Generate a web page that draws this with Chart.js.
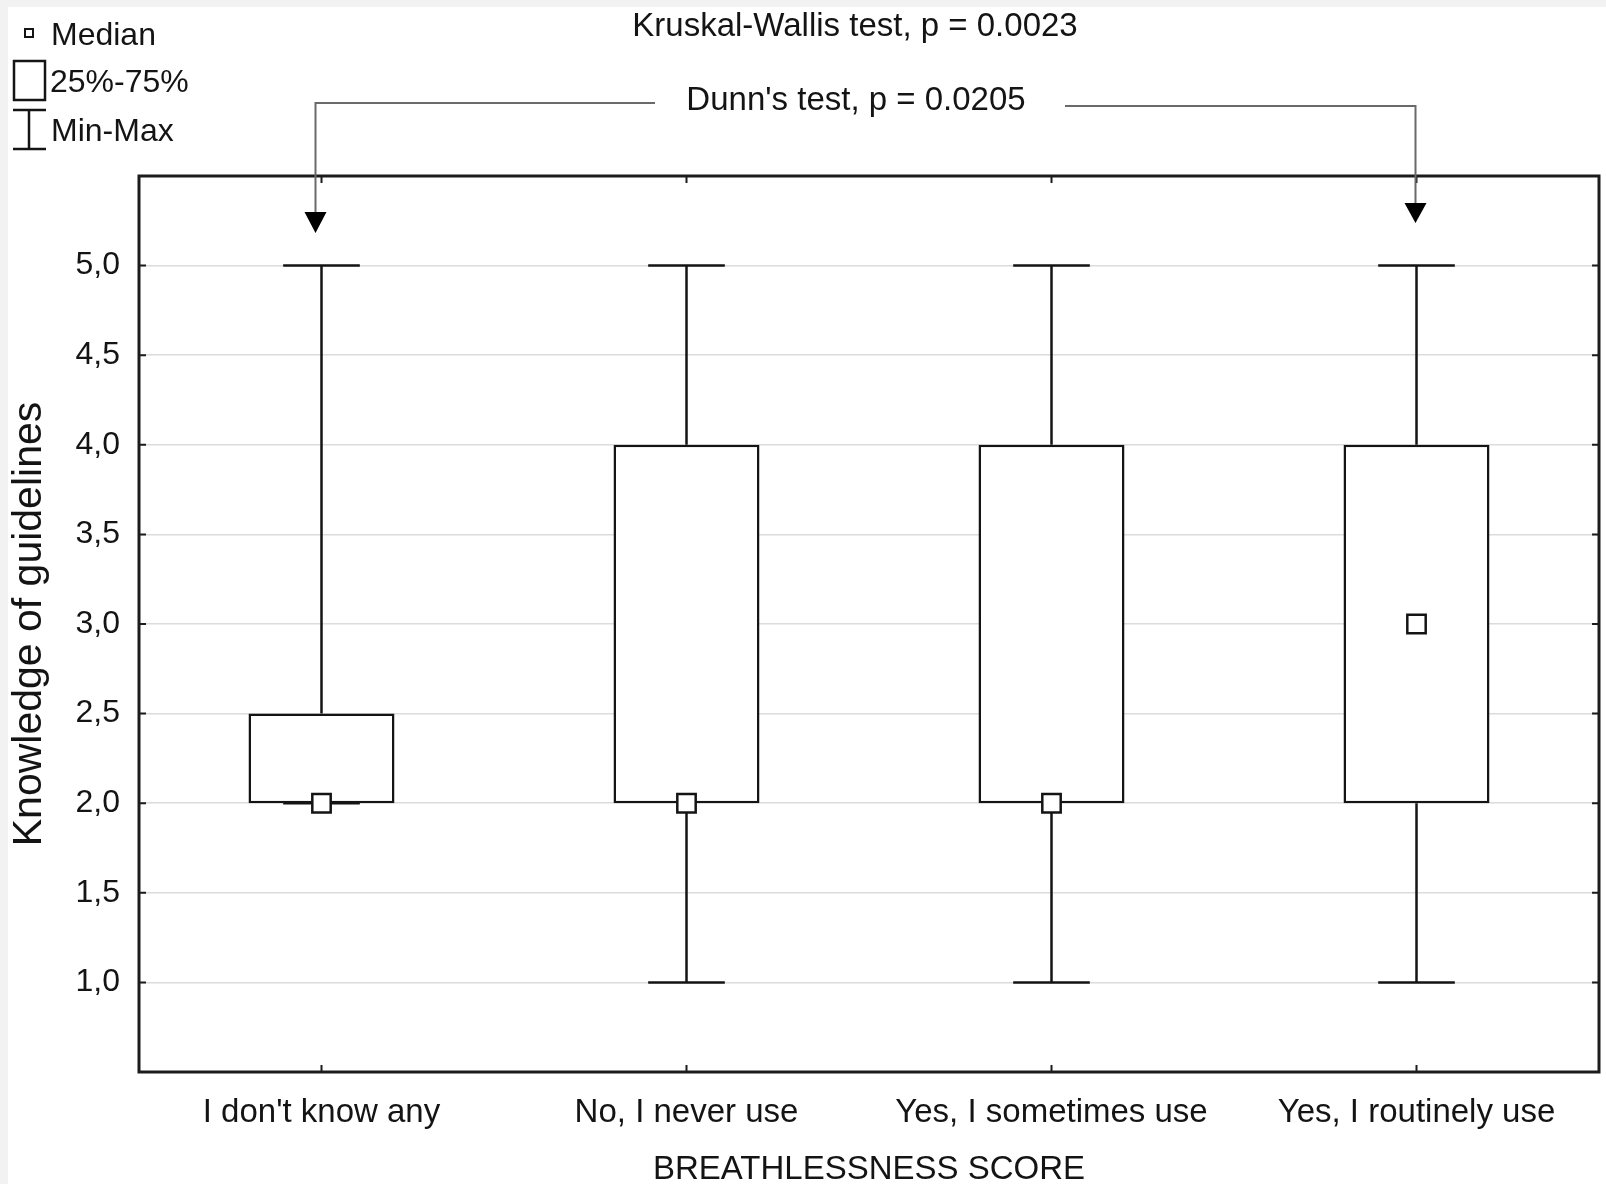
<!DOCTYPE html>
<html>
<head>
<meta charset="utf-8">
<style>
  html, body { margin: 0; padding: 0; background: #f2f2f2; overflow: hidden; }
  #wrap { width: 1606px; height: 1184px; }
</style>
<script src="https://cdn.jsdelivr.net/npm/chart.js@4.4.1/dist/chart.umd.min.js"></script>
</head>
<body>
<div id="wrap"><canvas id="myChart" width="1606" height="1184"></canvas></div>
<script>
const categories = ["I don't know any", "No, I never use", "Yes, I sometimes use", "Yes, I routinely use"];
const minValues = [2, 1, 1, 1];
const q1Values = [2, 2, 2, 2];
const medianValues = [2, 2, 2, 3];
const q3Values = [2.5, 4, 4, 4];
const maxValues = [5, 5, 5, 5];
const yTickValues = [1, 1.5, 2, 2.5, 3, 3.5, 4, 4.5, 5];

const FONT = '"Liberation Sans", Arial, Helvetica, sans-serif';
const INK = '#141414';

// light grey strip round the picture, white page
const background = {
    id: 'background',
    beforeDraw(chart) {
        const c = chart.ctx;
        c.save();
        c.fillStyle = '#f2f2f2';
        c.fillRect(0, 0, chart.width, chart.height);
        c.fillStyle = '#ffffff';
        c.fillRect(8, 7, chart.width - 8, chart.height - 7);
        c.restore();
    }
};

// min-max whiskers, drawn under the boxes
const whiskers = {
    id: 'whiskers',
    beforeDatasetsDraw(chart) {
        const c = chart.ctx;
        const x = chart.scales.x, y = chart.scales.y;
        const capHalf = x.width / categories.length * 0.105;
        c.save();
        c.strokeStyle = INK;
        c.lineWidth = 2.5;
        categories.forEach((cat, i) => {
            const px = x.getPixelForValue(i);
            c.beginPath();
            c.moveTo(px, y.getPixelForValue(maxValues[i]));
            c.lineTo(px, y.getPixelForValue(q3Values[i]));
            c.moveTo(px, y.getPixelForValue(minValues[i]));
            c.lineTo(px, y.getPixelForValue(q1Values[i]));
            c.moveTo(px - capHalf, y.getPixelForValue(maxValues[i]));
            c.lineTo(px + capHalf, y.getPixelForValue(maxValues[i]));
            c.moveTo(px - capHalf, y.getPixelForValue(minValues[i]));
            c.lineTo(px + capHalf, y.getPixelForValue(minValues[i]));
            c.stroke();
        });
        c.restore();
    }
};

// frame, inward ticks, legend and the test annotations
const decorations = {
    id: 'decorations',
    afterDraw(chart) {
        const c = chart.ctx;
        const a = chart.chartArea;
        const x = chart.scales.x, y = chart.scales.y;
        c.save();

        c.strokeStyle = '#1c1c1c';
        c.lineWidth = 3;
        c.strokeRect(a.left, a.top, a.right - a.left, a.bottom - a.top);

        c.lineWidth = 2;
        c.beginPath();
        yTickValues.forEach(v => {
            const py = y.getPixelForValue(v);
            c.moveTo(a.left, py); c.lineTo(a.left + 7, py);
            c.moveTo(a.right, py); c.lineTo(a.right - 7, py);
        });
        categories.forEach((cat, i) => {
            const px = x.getPixelForValue(i);
            c.moveTo(px, a.bottom); c.lineTo(px, a.bottom - 7);
            c.moveTo(px, a.top); c.lineTo(px, a.top + 7);
        });
        c.stroke();

        // legend
        c.fillStyle = INK;
        c.strokeStyle = INK;
        c.font = '32px ' + FONT;
        c.textBaseline = 'middle';
        c.textAlign = 'left';
        c.lineWidth = 2;
        c.strokeRect(25, 29, 8, 8);
        c.fillText('Median', 51, 36);
        c.lineWidth = 2.5;
        c.strokeRect(14, 61, 31, 39);
        c.fillText('25%-75%', 50, 83);
        c.beginPath();
        c.moveTo(13, 110); c.lineTo(46, 110);
        c.moveTo(29, 110); c.lineTo(29, 149);
        c.moveTo(13, 149); c.lineTo(46, 149);
        c.stroke();
        c.fillText('Min-Max', 51, 132);

        // tests
        c.font = '33px ' + FONT;
        c.textAlign = 'center';
        c.fillText('Kruskal-Wallis test, p = 0.0023', 855, 27);
        c.fillText("Dunn's test, p = 0.0205", 856, 101);

        const xl = x.getPixelForValue(0) - 6;
        const xr = x.getPixelForValue(3) - 1;
        c.strokeStyle = '#6a6a6a';
        c.lineWidth = 2;
        c.beginPath();
        c.moveTo(655, 103); c.lineTo(xl, 103); c.lineTo(xl, 213);
        c.moveTo(1065, 106); c.lineTo(xr, 106); c.lineTo(xr, 204);
        c.stroke();
        c.fillStyle = '#000';
        c.beginPath();
        c.moveTo(xl - 11, 212); c.lineTo(xl + 11, 212); c.lineTo(xl, 233); c.closePath();
        c.moveTo(xr - 11, 203); c.lineTo(xr + 11, 203); c.lineTo(xr, 223); c.closePath();
        c.fill();

        c.restore();
    }
};

const ctx = document.getElementById('myChart').getContext('2d');

const myChart = new Chart(ctx, {
    type: 'bar',
    data: {
        labels: categories,
        datasets: [{
            label: 'Median',
            type: 'line',
            data: medianValues,
            showLine: false,
            pointStyle: 'rect',
            pointRadius: 13,
            pointBackgroundColor: '#ffffff',
            pointBorderColor: INK,
            pointBorderWidth: 2.5,
            order: 0
        }, {
            label: '25%-75%',
            data: categories.map((cat, i) => [q1Values[i], q3Values[i]]),
            backgroundColor: '#ffffff',
            borderColor: INK,
            borderWidth: 2.5,
            borderSkipped: false,
            barPercentage: 0.4,
            categoryPercentage: 1,
            order: 1
        }]
    },
    options: {
        responsive: false,
        animation: false,
        layout: { autoPadding: false, padding: { top: 176, right: 7, left: 0, bottom: 0 } },
        plugins: {
            legend: { display: false },
            tooltip: { enabled: false }
        },
        scales: {
            x: {
                grid: { display: false, drawTicks: false },
                border: { display: false },
                ticks: { font: { family: FONT, size: 33 }, color: INK, padding: 21, maxRotation: 0 },
                title: {
                    display: true,
                    text: 'BREATHLESSNESS SCORE',
                    font: { family: FONT, size: 33, lineHeight: 0.85 },
                    color: INK,
                    padding: 0
                },
                afterFit: s => { s.height = 112; s.paddingLeft = 0; s.paddingRight = 0; }
            },
            y: {
                min: 0.5,
                max: 5.5,
                afterBuildTicks: s => { s.ticks = yTickValues.map(v => ({ value: v })); },
                grid: { color: '#dcdcdc', lineWidth: 1.5, drawTicks: false },
                border: { display: false },
                ticks: {
                    font: { family: FONT, size: 32 },
                    color: INK,
                    padding: 19,
                    callback: v => v.toFixed(1).replace('.', ',')
                },
                title: {
                    display: true,
                    text: 'Knowledge of guidelines',
                    font: { family: FONT, size: 41, lineHeight: 1 },
                    color: INK,
                    padding: { top: 9, bottom: 0 }
                },
                afterFit: s => { s.width = 139; s.paddingTop = 0; s.paddingBottom = 0; }
            }
        }
    },
    plugins: [background, whiskers, decorations]
});
</script>
</body>
</html>
